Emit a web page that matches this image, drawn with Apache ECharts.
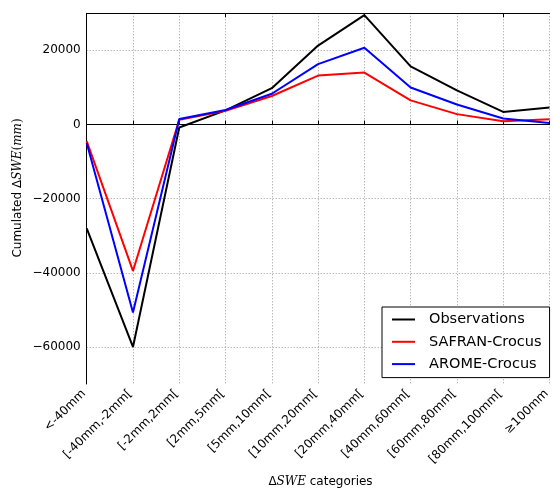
<!DOCTYPE html>
<html><head><meta charset="utf-8">
<script src="https://cdn.jsdelivr.net/npm/echarts@6/dist/echarts.min.js"></script>
<style>html,body{margin:0;padding:0;background:#fff}#c{width:553px;height:489px}</style>
</head><body><div id="c"></div>
<script>
const categories = ['<-40mm', '[-40mm,-2mm[', '[-2mm,2mm[', '[2mm,5mm[', '[5mm,10mm[', '[10mm,20mm[', '[20mm,40mm[', '[40mm,60mm[', '[60mm,80mm[', '[80mm,100mm[', '≥100mm'];
const observations = [-28000, -60000, -800, 3800, 9800, 21300, 29500, 15700, 9200, 3400, 4600];
const safranCrocus = [-4500, -39500, 1300, 3700, 7700, 13200, 14000, 6500, 2800, 900, 1400];
const aromeCrocus = [-5000, -50700, 1500, 3900, 8300, 16300, 20700, 10000, 5400, 1600, 400];
const seriesNames = ['Observations', 'SAFRAN-Crocus', 'AROME-Crocus'];
const yTicks = [-60000, -40000, -20000, 0, 20000];

const font = 'DejaVu Sans';
const chart = echarts.init(document.getElementById('c'), null, {renderer: 'canvas'});
const gridStyle = {color: '#999', type: [1, 2], width: 1};
chart.setOption({
  animation: false,
  textStyle: {fontFamily: font},
  grid: {left: 86.7, top: 13.3, right: -0.5, bottom: 105, containLabel: false},
  legend: {
    data: seriesNames, orient: 'vertical', left: 382, top: 307,
    padding: [5, 8, 6, 10], itemGap: 7.3, itemWidth: 23, itemHeight: 2, icon: 'rect',
    borderColor: '#000', borderWidth: 1, backgroundColor: '#fff',
    selectedMode: false,
    textStyle: {fontFamily: font, fontSize: 14.5, lineHeight: 14, color: '#000', padding: [0, 0, 0, 9]}
  },
  xAxis: [{
    type: 'category', data: categories, boundaryGap: false, position: 'bottom',
    axisLine: {lineStyle: {color: '#000', width: 1}},
    axisTick: {inside: true, length: 4, lineStyle: {color: '#000'}},
    axisLabel: {interval: 0, rotate: 45, fontSize: 12, color: '#000', margin: 5, padding: [0, 4, 0, 0], fontFamily: font},
    splitLine: {show: true, interval: 0, lineStyle: gridStyle}
  }, {
    type: 'category', data: categories, boundaryGap: false, position: 'top',
    axisLine: {lineStyle: {color: '#000', width: 1}},
    axisTick: {inside: true, length: 4, lineStyle: {color: '#000'}},
    axisLabel: {show: false}, splitLine: {show: false}
  }],
  yAxis: {
    type: 'value', min: -70000, max: 30000, interval: 10000,
    axisLine: {show: true, lineStyle: {color: '#000', width: 1}},
    axisTick: {show: false},
    axisLabel: {
      fontSize: 12, color: '#000', margin: 6, fontFamily: font,
      formatter: v => yTicks.includes(v) ? String(v).replace('-', '\u2212') : ''
    },
    splitLine: {show: true, lineStyle: {color: ['rgba(0,0,0,0)', '#999'], type: [1, 2], width: 1}}
  },
  series: [
    {name: seriesNames[0], type: 'line', data: observations, symbol: 'none', lineStyle: {color: '#000', width: 2}, itemStyle: {color: '#000'}},
    {name: seriesNames[1], type: 'line', data: safranCrocus, symbol: 'none', lineStyle: {color: '#ff0000', width: 2}, itemStyle: {color: '#ff0000'}},
    {name: seriesNames[2], type: 'line', data: aromeCrocus, symbol: 'none', lineStyle: {color: '#0000ff', width: 2}, itemStyle: {color: '#0000ff'}}
  ],
  graphic: [
    {type: 'text', x: 18, y: 188, rotation: Math.PI / 2, silent: true,
     style: {text: 'Cumulated Δ{i|SWE}{n|(}{i|mm}{n|)}', fontFamily: font, fontSize: 12, fill: '#000', align: 'center', verticalAlign: 'middle',
       rich: {i: {fontFamily: 'DejaVu Serif', fontStyle: 'italic', fontSize: 12}, n: {fontFamily: 'DejaVu Serif', fontSize: 12}}}},
    {type: 'text', x: 320.5, y: 482, silent: true,
     style: {text: 'Δ{i|SWE} categories', fontFamily: font, fontSize: 12, fill: '#000', align: 'center', verticalAlign: 'middle',
       rich: {i: {fontFamily: 'DejaVu Serif', fontStyle: 'italic', fontSize: 12}}}}
  ]
});
</script></body></html>
